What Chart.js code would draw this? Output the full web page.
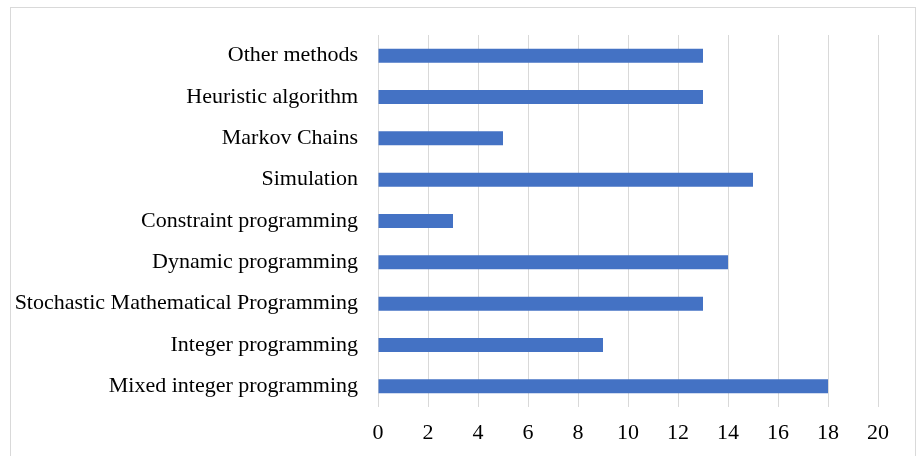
<!DOCTYPE html>
<html><head><meta charset="utf-8">
<script src="https://cdn.jsdelivr.net/npm/chart.js@4/dist/chart.umd.min.js"></script>
<style>html,body{margin:0;padding:0;background:#fff;}#wrap{position:absolute;left:0;top:0;width:917px;height:456px;}</style>
</head><body><div id="wrap"><canvas id="c" width="917" height="456"></canvas></div>
<script>
const categories = ["Other methods","Heuristic algorithm","Markov Chains","Simulation","Constraint programming","Dynamic programming","Stochastic Mathematical Programming","Integer programming","Mixed integer programming"];
const counts = [13,13,5,15,3,14,13,9,18];
const xTicks = [0,2,4,6,8,10,12,14,16,18,20];

const borderPlugin = {
  id:'frame',
  beforeDraw(chart){
    const ctx = chart.ctx;
    ctx.save();
    ctx.fillStyle = '#fff';
    ctx.fillRect(0,0,chart.width,chart.height);
    ctx.strokeStyle = '#d9d9d9';
    ctx.lineWidth = 1;
    ctx.strokeRect(10.5,7.5,905,470);
    ctx.restore();
  }
};

new Chart(document.getElementById('c'), {
  type:'bar',
  data:{labels:categories,datasets:[{data:counts,backgroundColor:'#4472C4',borderWidth:0,categoryPercentage:1,barPercentage:0.34}]},
  options:{
    indexAxis:'y',responsive:false,animation:false,
    layout:{padding:{left:0,top:35,right:39,bottom:0}},
    plugins:{legend:{display:false},tooltip:{enabled:false}},
    scales:{
      x:{min:0,max:20,
        afterBuildTicks(s){s.ticks = xTicks.map(v=>({value:v}));},
        afterFit(s){s.height = 49;},
        grid:{color:'#d9d9d9',lineWidth:1,drawTicks:false},
        border:{display:false},
        ticks:{color:'#000',padding:13,font:{family:'"Liberation Serif","Times New Roman",serif',size:22}}
      },
      y:{
        afterFit(s){s.width = 378;},
        grid:{display:false,drawTicks:false},
        border:{display:false},
        ticks:{color:'#000',padding:20,autoSkip:false,font:{family:'"Liberation Serif","Times New Roman",serif',size:22}}
      }
    }
  },
  plugins:[borderPlugin]
});
</script></body></html>
